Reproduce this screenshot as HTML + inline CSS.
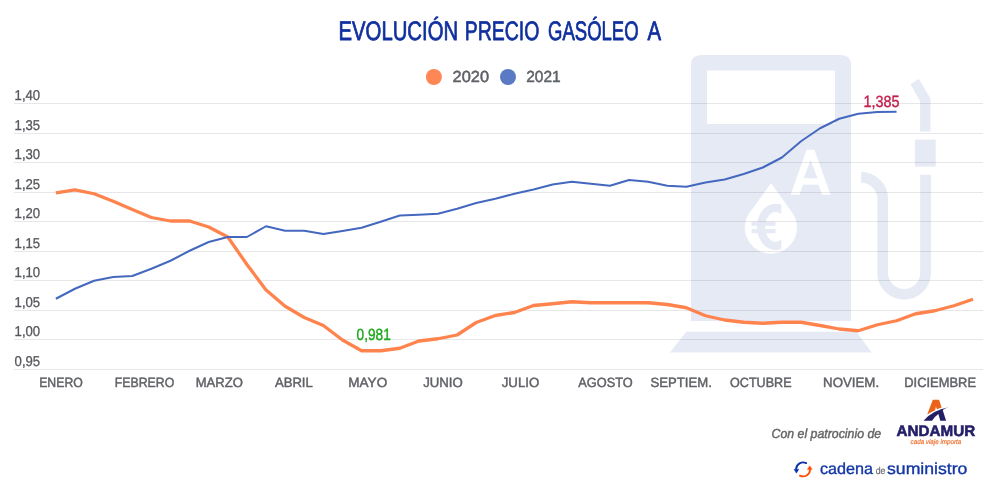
<!DOCTYPE html>
<html><head><meta charset="utf-8"><title>Evolución precio gasóleo A</title>
<style>
html,body{margin:0;padding:0;background:#fff;}
body{width:1000px;height:500px;overflow:hidden;font-family:"Liberation Sans",sans-serif;}
svg{display:block;font-family:"Liberation Sans",sans-serif;}
text{text-rendering:geometricPrecision;}
svg{will-change:transform;transform:translateZ(0);}
</style></head><body>
<svg width="1000" height="500" viewBox="0 0 1000 500">
<rect width="1000" height="500" fill="#fff"/>
<!-- pump watermark -->
<g fill="#e6eaf5">
<path d="M701,55 H841 Q851,55 851,65 V321 H691 V65 Q691,55 701,55 Z M707,70.5 V124 H835 V70.5 Z" fill-rule="evenodd"/>
<path d="M686.3,331.8 H856.3 L871.8,352.5 H670 Z"/>
<path d="M910.5,84.3 L918.8,79.1 L930.5,98.6 V131.6 H920.1 V101.2 Z"/>
<rect x="914.9" y="139.6" width="20.8" height="27"/>
</g>
<path d="M861.2,177.4 A21.5,21.5 0 0 1 882.7,198.9 V272.9 A21.425,21.425 0 0 0 925.55,272.9 V174.7" fill="none" stroke="#e6eaf5" stroke-width="10.7"/>
<!-- drop + A -->
<path d="M771.05,183.6 L791.8,212.5 A25.8,25.8 0 1 1 750,212.5 Z" fill="#fff" stroke="#fff" stroke-width="0.6" stroke-linejoin="round"/>
<clipPath id="ec"><rect x="740" y="195" width="41.3" height="65"/></clipPath>
<path d="M784,211.13 A14.7,19.05 0 1 0 784,242.57" fill="none" stroke="#e6eaf5" stroke-width="8.2" clip-path="url(#ec)"/>
<rect x="751.5" y="221.8" width="24" height="4" fill="#e6eaf5"/>
<rect x="751.5" y="229.1" width="24" height="4.1" fill="#e6eaf5"/>
<path d="M790.6,194.8 L806.6,149.7 H814.4 L830.6,194.8 H822 L818.5,184.8 H802.8 L799.5,194.8 Z M803.8,178.3 H817.5 L810.5,160.1 Z" fill="#fff" fill-rule="evenodd"/>
<!-- grid -->
<rect x="14" y="103" width="969" height="1" fill="#000" fill-opacity="0.095"/><rect x="14" y="133" width="969" height="1" fill="#000" fill-opacity="0.095"/><rect x="14" y="162" width="969" height="1" fill="#000" fill-opacity="0.095"/><rect x="14" y="192" width="969" height="1" fill="#000" fill-opacity="0.095"/><rect x="14" y="221" width="969" height="1" fill="#000" fill-opacity="0.095"/><rect x="14" y="251" width="969" height="1" fill="#000" fill-opacity="0.095"/><rect x="14" y="280" width="969" height="1" fill="#000" fill-opacity="0.095"/><rect x="14" y="310" width="969" height="1" fill="#000" fill-opacity="0.095"/><rect x="14" y="339" width="969" height="1" fill="#000" fill-opacity="0.095"/><rect x="14" y="369" width="969" height="1" fill="#000" fill-opacity="0.095"/>
<!-- title -->
<g font-size="26.8" fill="#0f2f9e" stroke="#0f2f9e" stroke-width="0.75" stroke-linejoin="round">
<text x="338.5" y="39.9" textLength="119.6" lengthAdjust="spacingAndGlyphs">EVOLUCIÓN</text>
<text x="464.7" y="39.9" textLength="74.6" lengthAdjust="spacingAndGlyphs">PRECIO</text>
<text x="548.1" y="39.9" textLength="90.5" lengthAdjust="spacingAndGlyphs">GASÓLEO</text>
<text x="647.4" y="39.9" textLength="13.6" lengthAdjust="spacingAndGlyphs">A</text>
</g>
<!-- legend -->
<circle cx="433.9" cy="77" r="8" fill="#ff8756"/>
<circle cx="508" cy="77" r="8" fill="#5a7ac6"/>
<g font-size="16" fill="#5f6166" stroke="#5f6166" stroke-width="0.5">
<text x="452.6" y="81.7" textLength="36.4" lengthAdjust="spacingAndGlyphs">2020</text>
<text x="526.2" y="81.7" textLength="34.4" lengthAdjust="spacingAndGlyphs">2021</text>
</g>
<!-- y labels -->
<g font-size="14.2" fill="#56585d" stroke="#56585d" stroke-width="0.3"><text x="14.6" y="99.6" textLength="25.6" lengthAdjust="spacingAndGlyphs">1,40</text><text x="14.6" y="129.6" textLength="25.6" lengthAdjust="spacingAndGlyphs">1,35</text><text x="14.6" y="158.6" textLength="25.6" lengthAdjust="spacingAndGlyphs">1,30</text><text x="14.6" y="188.6" textLength="25.6" lengthAdjust="spacingAndGlyphs">1,25</text><text x="14.6" y="217.6" textLength="25.6" lengthAdjust="spacingAndGlyphs">1,20</text><text x="14.6" y="247.6" textLength="25.6" lengthAdjust="spacingAndGlyphs">1,15</text><text x="14.6" y="276.6" textLength="25.6" lengthAdjust="spacingAndGlyphs">1,10</text><text x="14.6" y="306.6" textLength="25.6" lengthAdjust="spacingAndGlyphs">1,05</text><text x="14.6" y="335.6" textLength="25.6" lengthAdjust="spacingAndGlyphs">1,00</text><text x="14.6" y="365.6" textLength="25.6" lengthAdjust="spacingAndGlyphs">0,95</text></g>
<!-- x labels -->
<g font-size="13.4" fill="#5f6166" stroke="#5f6166" stroke-width="0.45"><text x="39.2" y="387.1" textLength="43.6" lengthAdjust="spacingAndGlyphs">ENERO</text><text x="114.8" y="387.1" textLength="59.4" lengthAdjust="spacingAndGlyphs">FEBRERO</text><text x="195.7" y="387.1" textLength="47.2" lengthAdjust="spacingAndGlyphs">MARZO</text><text x="274.9" y="387.1" textLength="37.9" lengthAdjust="spacingAndGlyphs">ABRIL</text><text x="348.3" y="387.1" textLength="38.9" lengthAdjust="spacingAndGlyphs">MAYO</text><text x="423.2" y="387.1" textLength="39.6" lengthAdjust="spacingAndGlyphs">JUNIO</text><text x="501.7" y="387.1" textLength="37.6" lengthAdjust="spacingAndGlyphs">JULIO</text><text x="578.3" y="387.1" textLength="54.4" lengthAdjust="spacingAndGlyphs">AGOSTO</text><text x="650.5" y="387.1" textLength="61.3" lengthAdjust="spacingAndGlyphs">SEPTIEM.</text><text x="730" y="387.1" textLength="61.6" lengthAdjust="spacingAndGlyphs">OCTUBRE</text><text x="823.1" y="387.1" textLength="56.0" lengthAdjust="spacingAndGlyphs">NOVIEM.</text><text x="904.3" y="387.1" textLength="71.7" lengthAdjust="spacingAndGlyphs">DICIEMBRE</text></g>
<!-- series -->
<polyline points="55.85,192.80 74.96,189.80 94.06,193.75 113.17,201.25 132.28,209.50 151.38,217.50 170.49,221.00 189.60,221.00 208.71,227.00 227.81,237.00 246.92,264.50 266.03,290.00 285.13,306.25 304.24,317.50 323.35,325.50 342.46,340.00 361.56,350.75 380.67,350.75 399.78,348.25 418.88,341.00 437.99,338.75 457.10,335.00 476.20,322.50 495.31,315.50 514.42,312.50 533.52,305.50 552.63,303.75 571.74,301.75 590.85,302.75 609.95,302.75 629.06,302.75 648.17,302.75 667.27,304.50 686.38,307.75 705.49,315.75 724.60,320.00 743.70,322.25 762.81,323.25 781.92,322.25 801.02,322.25 820.13,325.50 839.24,329.00 858.34,330.75 877.45,324.75 896.56,320.75 915.66,313.75 934.77,310.75 953.88,305.75 972.99,299.25" fill="none" stroke="#ff834d" stroke-width="3.3" stroke-linejoin="round" stroke-linecap="butt"/>
<polyline points="55.85,298.75 74.96,288.75 94.06,280.75 113.17,277.00 132.28,276.00 151.38,268.75 170.49,260.75 189.60,250.75 208.71,242.00 227.81,237.00 246.92,237.00 266.03,226.25 285.13,230.75 304.24,230.75 323.35,234.00 342.46,231.00 361.56,227.75 380.67,221.75 399.78,215.50 418.88,214.75 437.99,213.75 457.10,208.75 476.20,203.00 495.31,198.75 514.42,193.75 533.52,189.50 552.63,184.50 571.74,181.75 590.85,183.75 609.95,185.75 629.06,180.00 648.17,181.75 667.27,185.75 686.38,186.75 705.49,182.50 724.60,179.50 743.70,174.00 762.81,167.50 781.92,157.50 801.02,141.25 820.13,128.25 839.24,118.75 858.34,113.75 877.45,112.00 896.56,111.75" fill="none" stroke="#4568bf" stroke-width="2" stroke-linejoin="round" stroke-linecap="butt"/>
<!-- annotations -->
<text x="356.6" y="339.6" font-size="16.3" fill="#1ea81e" stroke="#1ea81e" stroke-width="0.4" textLength="34.2" lengthAdjust="spacingAndGlyphs">0,981</text>
<text x="863.4" y="106.7" font-size="16.3" fill="#c51f4d" stroke="#c51f4d" stroke-width="0.4" textLength="36" lengthAdjust="spacingAndGlyphs">1,385</text>
<!-- footer -->
<text x="771.5" y="438" font-size="13.1" font-style="italic" fill="#666" stroke="#666" stroke-width="0.45" textLength="109.7" lengthAdjust="spacingAndGlyphs">Con el patrocinio de</text>
<!-- andamur -->
<path d="M932.8,399.8 H939 L941.6,407.5 L937,409.2 L935.9,406.8 L935.1,410.2 Q931,412 927.2,414.6 Z" fill="#ea6318"/>
<path d="M923.5,420.7 Q932.5,410.3 948.6,407.3 Q945,408.6 942.7,410 L946.1,420.7 H940.3 L938.4,413.9 Q934.5,416.5 932,420.7 Z" fill="#231f67"/>
<text x="896.6" y="435.7" font-size="15.2" font-weight="bold" fill="#231f67" stroke="#231f67" stroke-width="0.6" textLength="78.6" lengthAdjust="spacingAndGlyphs">ANDAMUR</text>
<text x="910.6" y="444.3" font-size="6.8" font-style="italic" fill="#ee6a25" stroke="#ee6a25" stroke-width="0.15" textLength="50.6" lengthAdjust="spacingAndGlyphs">cada viaje importa</text>
<!-- cadena de suministro -->
<g fill="none" stroke-width="1.85" stroke-linecap="round">
<path d="M806.2,463.1 A7,7 0 0 0 796.1,469" stroke="#0d31a8"/>
<path d="M799.9,475.6 A7,7 0 0 0 810.1,469.8" stroke="#ff4b05"/>
</g>
<path d="M794,469.3 H798.9 L796.4,473.2 Z" fill="#0d31a8" stroke="#0d31a8" stroke-width="0.4" stroke-linejoin="round"/>
<path d="M807.3,469.5 H812.2 L809.7,465.7 Z" fill="#ff4b05" stroke="#ff4b05" stroke-width="0.4" stroke-linejoin="round"/>
<text x="820" y="474" font-size="16" fill="#1236a6" stroke="#1236a6" stroke-width="0.35" textLength="53" lengthAdjust="spacingAndGlyphs">cadena</text>
<text x="875.7" y="474.3" font-size="10" fill="#6a6a6a" stroke="#6a6a6a" stroke-width="0.15" textLength="9.8" lengthAdjust="spacingAndGlyphs">de</text>
<text x="887" y="474" font-size="16" fill="#1236a6" stroke="#1236a6" stroke-width="0.35" textLength="80.4" lengthAdjust="spacingAndGlyphs">suministro</text>
</svg>
</body></html>
